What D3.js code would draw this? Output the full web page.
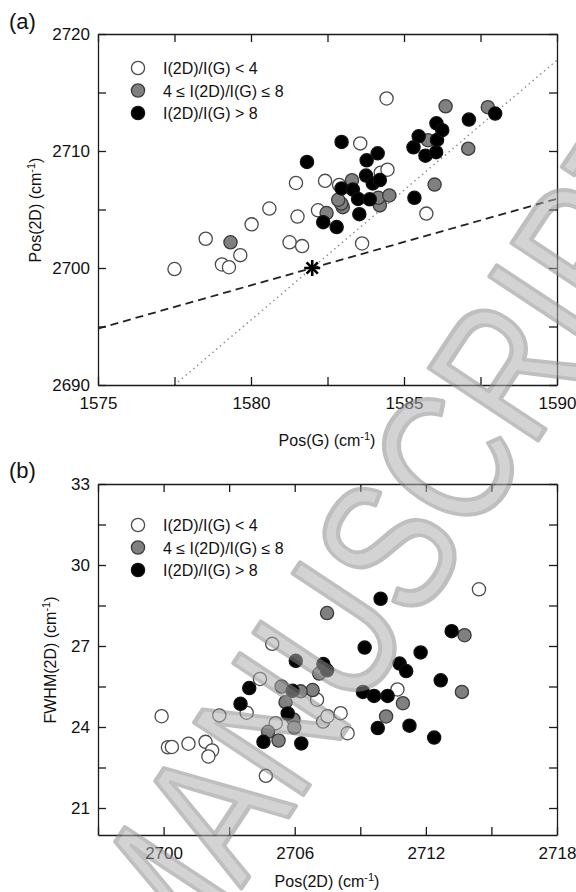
<!DOCTYPE html>
<html>
<head>
<meta charset="utf-8">
<script src="https://cdn.jsdelivr.net/npm/d3@7"></script>
<style>
body { margin: 0; background: #fff; }
text { font-family: "Liberation Sans", Arial, sans-serif; fill: #111; }
</style>
</head>
<body>
<svg id="chart" width="576" height="892"></svg>
<script>
// ---- panel (a): Pos(2D) vs Pos(G) ----
const aLowRatio = [
  [1584.43, 2714.49], [1583.57, 2710.65], [1581.47, 2707.27], [1582.42, 2707.45],
  [1584.24, 2708.15], [1584.46, 2708.4], [1580.6, 2705.08], [1581.52, 2704.4],
  [1582.19, 2704.93], [1585.73, 2704.65], [1582.88, 2707.1], [1580.02, 2703.73],
  [1578.52, 2702.5], [1579.65, 2701.1], [1579.05, 2700.3], [1579.28, 2700.07],
  [1577.5, 2699.91], [1581.26, 2702.2], [1581.67, 2701.87], [1583.63, 2702.1]
];
const aMidRatio = [
  [1579.33, 2702.2], [1582.47, 2704.7], [1583.0, 2705.2], [1582.95, 2705.5],
  [1582.85, 2705.83], [1584.21, 2705.35], [1584.16, 2706.0], [1584.52, 2706.2],
  [1583.3, 2707.5], [1585.78, 2710.92], [1586.36, 2713.82], [1587.74, 2713.74],
  [1587.1, 2710.2], [1586.0, 2707.13]
];
const aHighRatio = [
  [1582.96, 2710.77], [1581.83, 2709.06], [1584.14, 2709.8], [1583.78, 2709.2],
  [1583.76, 2707.9], [1583.98, 2707.23], [1584.21, 2707.52], [1582.96, 2706.8],
  [1583.33, 2706.7], [1583.5, 2705.9], [1583.88, 2705.87], [1583.54, 2704.6],
  [1582.36, 2703.92], [1582.8, 2703.5], [1585.34, 2706.0], [1585.31, 2710.32],
  [1585.48, 2711.26], [1585.7, 2709.6], [1586.05, 2709.9], [1586.08, 2710.95],
  [1586.06, 2712.37], [1586.25, 2711.78], [1587.12, 2712.69], [1587.98, 2713.2]
];
// reference point (star) and the two guide lines through it
const refPoint = [1582, 2700];
const strainSlope = 2.22;   // dotted
const dopingSlope = 0.74;   // dashed

// ---- panel (b): FWHM(2D) vs Pos(2D) ----
const bLowRatio = [
  [2714.43, 29.1], [2704.97, 27.08], [2704.41, 25.78], [2703.8, 24.53],
  [2702.55, 24.43], [2699.91, 24.4], [2705.13, 24.14], [2700.2, 23.25],
  [2700.38, 23.26], [2701.14, 23.38], [2701.92, 23.45], [2702.22, 23.13],
  [2702.05, 22.91], [2704.68, 22.19], [2707.02, 25.01], [2707.3, 24.2],
  [2707.5, 24.4], [2708.1, 24.51], [2708.42, 23.77], [2710.7, 25.39]
];
const bMidRatio = [
  [2707.48, 28.22], [2713.77, 27.4], [2713.65, 25.3], [2710.95, 24.88],
  [2710.18, 24.39], [2707.12, 25.98], [2706.82, 25.37], [2706.27, 25.32],
  [2705.4, 25.5], [2705.58, 24.92], [2705.94, 24.28], [2705.98, 23.98],
  [2704.78, 23.82], [2705.26, 23.5]
];
const bHighRatio = [
  [2709.93, 28.75], [2713.18, 27.55], [2709.2, 26.94], [2711.76, 26.76],
  [2706.05, 26.45], [2707.31, 26.33], [2707.48, 26.1], [2710.8, 26.35],
  [2711.1, 26.07], [2712.68, 25.73], [2709.12, 25.3], [2709.63, 25.15],
  [2710.25, 25.15], [2709.8, 23.96], [2711.25, 24.05], [2712.38, 23.61],
  [2706.3, 23.39], [2703.92, 25.44], [2705.9, 25.34], [2703.52, 24.86],
  [2705.68, 24.5], [2704.57, 23.45]
];

const legendLabels = ["I(2D)/I(G) < 4", "4 \u2264 I(2D)/I(G) \u2264 8", "I(2D)/I(G) > 8"];
const markerFill = ["#ffffff", "#808080", "#000000"];
const markerStroke = ["#4a4a4a", "#3a3a3a", "#111111"];

const svg = d3.select("#chart");
const R = 6.6;

function frameAxes(g, x, y, xTicks, yTicks, xLab, yLab) {
  const [x0, x1] = x.range();
  const [y0, y1] = y.range();
  g.append("g").attr("transform", "translate(0," + y0 + ")")
    .call(d3.axisBottom(x).tickValues(xTicks).tickSize(-8).tickSizeOuter(0).tickPadding(12)
      .tickFormat(d => xLab(d) ? d : ""));
  g.append("g").attr("transform", "translate(0," + y1 + ")")
    .call(d3.axisTop(x).tickValues(xTicks).tickSize(-8).tickSizeOuter(0).tickFormat(""));
  g.append("g").attr("transform", "translate(" + x0 + ",0)")
    .call(d3.axisLeft(y).tickValues(yTicks).tickSize(-8).tickSizeOuter(0).tickPadding(8)
      .tickFormat(d => yLab(d) ? d : ""));
  g.append("g").attr("transform", "translate(" + x1 + ",0)")
    .call(d3.axisRight(y).tickValues(yTicks).tickSize(-8).tickSizeOuter(0).tickFormat(""));
  g.selectAll(".domain, .tick line").attr("stroke", "#1a1a1a").attr("stroke-width", 1.3);
  g.selectAll(".tick text").style("font-family", "'Liberation Sans', Arial, sans-serif")
    .style("font-size", "17px").attr("fill", "#111");
}

function drawPoints(g, x, y, groups) {
  groups.forEach((data, k) => {
    g.append("g").selectAll("circle").data(data).join("circle")
      .attr("cx", d => x(d[0])).attr("cy", d => y(d[1])).attr("r", R)
      .attr("fill", markerFill[k]).attr("stroke", markerStroke[k]).attr("stroke-width", 1.3);
  });
}

function drawLegend(g, x0, y0) {
  legendLabels.forEach((lab, k) => {
    g.append("circle").attr("cx", x0).attr("cy", y0 + k * 22.5).attr("r", R)
      .attr("fill", markerFill[k]).attr("stroke", markerStroke[k]).attr("stroke-width", 1.3);
    g.append("text").attr("x", x0 + 25).attr("y", y0 + k * 22.5 + 6)
      .style("font-size", "16px").text(lab);
  });
}

function axisTitle(g, x, y, rot, base) {
  const t = g.append("text").attr("text-anchor", "middle").style("font-size", "16px")
    .attr("transform", "translate(" + x + "," + y + ")" + (rot ? " rotate(-90)" : ""));
  t.append("tspan").text(base + " (cm");
  t.append("tspan").attr("dy", -6).style("font-size", "11px").text("-1");
  t.append("tspan").attr("dy", 6).text(")");
}

// ---------- panel (a) ----------
const xA = d3.scaleLinear([1575, 1590], [98, 557]);
const yA = d3.scaleLinear([2690, 2720], [385, 34]);
const gA = svg.append("g");

svg.append("clipPath").attr("id", "clipA").append("rect")
  .attr("x", 98).attr("y", 34).attr("width", 459).attr("height", 351);

const lineX = xA.domain();
const guide = d3.line().x(d => xA(d[0])).y(d => yA(d[1]));
const strainPts = lineX.map(v => [v, refPoint[1] + strainSlope * (v - refPoint[0])]);
const dopingPts = lineX.map(v => [v, refPoint[1] + dopingSlope * (v - refPoint[0])]);
gA.append("path").attr("clip-path", "url(#clipA)").attr("d", guide(strainPts))
  .attr("fill", "none").attr("stroke", "#8a8a8a").attr("stroke-width", 1.4)
  .attr("stroke-dasharray", "1.5,3.5");
gA.append("path").attr("clip-path", "url(#clipA)").attr("d", guide(dopingPts))
  .attr("fill", "none").attr("stroke", "#222").attr("stroke-width", 1.8)
  .attr("stroke-dasharray", "8,5");

drawPoints(gA, xA, yA, [aLowRatio, aMidRatio, aHighRatio]);

// asterisk at the reference point
const star = gA.append("g")
  .attr("transform", "translate(" + xA(refPoint[0]) + "," + yA(refPoint[1]) + ")");
[0, 45, 90, 135].forEach(a => {
  star.append("line").attr("x1", -8).attr("x2", 8).attr("y1", 0).attr("y2", 0)
    .attr("transform", "rotate(" + a + ")").attr("stroke", "#000").attr("stroke-width", 2.6);
});

frameAxes(gA, xA, yA, d3.range(1575, 1590.1, 2.5), d3.range(2690, 2720.1, 5),
  d => d % 5 === 0, d => d % 10 === 0);
drawLegend(gA, 138, 68);
axisTitle(gA, 327, 446, false, "Pos(G)");
axisTitle(gA, 41, 210, true, "Pos(2D)");
gA.append("text").attr("x", 9).attr("y", 29).style("font-size", "22px").text("(a)");

// ---------- panel (b) ----------
const xB = d3.scaleLinear([2697, 2718], [98, 557]);
const yB = d3.scaleLinear([20, 33], [835, 484]);
const gB = svg.append("g");
drawPoints(gB, xB, yB, [bLowRatio, bMidRatio, bHighRatio]);
frameAxes(gB, xB, yB, d3.range(2697, 2718.1, 3), d3.range(21, 33.1, 1.5),
  d => (d - 2700) % 6 === 0, d => d % 3 === 0);
drawLegend(gB, 138, 525);
axisTitle(gB, 327, 887, false, "Pos(2D)");
axisTitle(gB, 56, 660, true, "FWHM(2D)");
gB.append("text").attr("x", 9).attr("y", 478).style("font-size", "22px").text("(b)");

// ---------- watermark ----------
svg.append("text")
  .attr("transform", "translate(172,993) rotate(-56.5)")
  .attr("textLength", 992).attr("lengthAdjust", "spacingAndGlyphs")
  .style("font-size", "190px")
  .style("fill", "#b0b0b0").attr("stroke", "#8c8c8c").attr("stroke-width", 4.5)
  .attr("stroke-linejoin", "round")
  .attr("opacity", 0.55)
  .text("MANUSCRIPT");
</script>
</body>
</html>
